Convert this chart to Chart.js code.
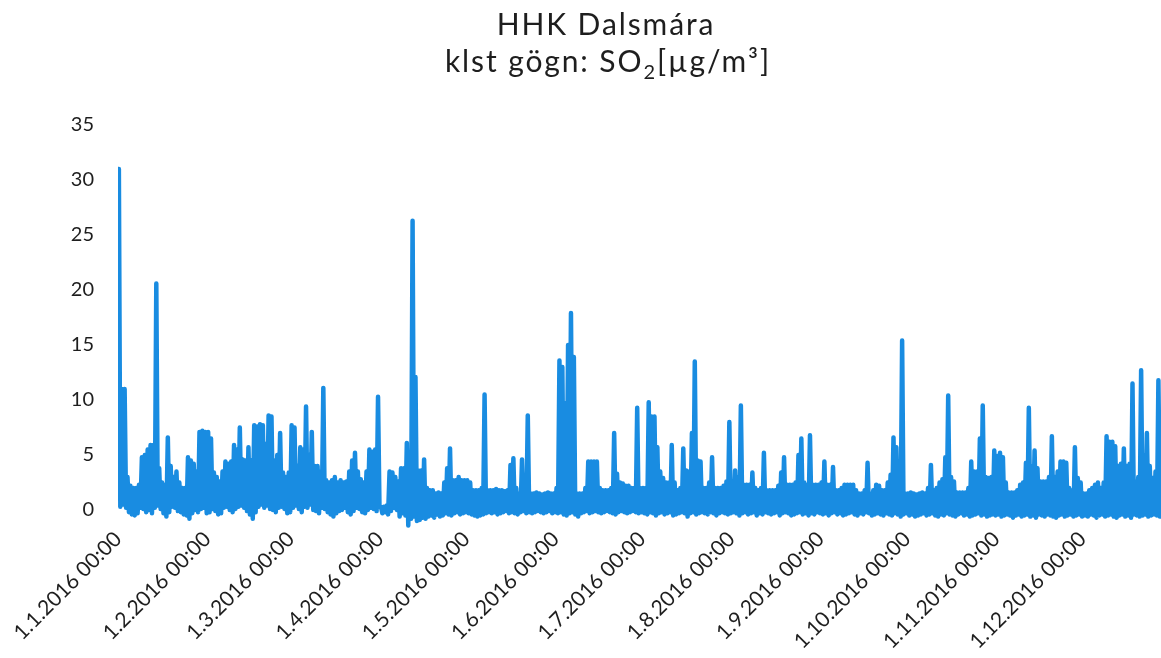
<!DOCTYPE html>
<html>
<head>
<meta charset="utf-8">
<script src="https://cdn.jsdelivr.net/npm/chart.js@4.4.1/dist/chart.umd.min.js"></script>
<style>
    html, body { margin: 0; padding: 0; background: #ffffff; }
    #wrap { width: 1161px; height: 658px; position: relative; }
</style>
</head>
<body>
<div id="wrap"><canvas id="so2Chart"></canvas></div>
<script>
// Chart text
const titleLine1 = 'HHK Dalsmára';
const titleLine2 = ['klst gögn: SO', '2', '[µg/m³]'];

// Month start ticks (day of year, 2016) and their labels
const monthStarts = [0, 31, 60, 91, 121, 152, 182, 213, 244, 274, 305, 335];
const monthLabels = [
    '1.1.2016 00:00', '1.2.2016 00:00', '1.3.2016 00:00', '1.4.2016 00:00',
    '1.5.2016 00:00', '1.6.2016 00:00', '1.7.2016 00:00', '1.8.2016 00:00',
    '1.9.2016 00:00', '1.10.2016 00:00', '1.11.2016 00:00', '1.12.2016 00:00'
];
const yTicks = [0, 5, 10, 15, 20, 25, 30, 35];

// Daily highest hourly value, 1 Jan .. 28 Dec
const dailyHigh = [
    // jan
    31, 11, 11, 3, 2.2, 2, 2, 2.3, 4.8, 5, 5.5, 5.9, 5.9, 20.6, 3.8, 2.5, 2.3, 6.6, 4, 3, 3.5, 2.5, 2, 2, 4.8, 4.5, 4.2, 3.5, 7.1, 7.2, 7.1,
    // feb
    7.1, 6.5, 3.4, 3, 2.6, 3.5, 4.4, 4.2, 4.4, 5.9, 5.5, 7.5, 4.6, 4.5, 5.7, 4.5, 7.7, 7.6, 7.8, 7.7, 6, 8.6, 8.5, 4.5, 5, 7, 3.4, 3, 3.4,
    // mar
    7.7, 7.5, 4, 5.7, 5.5, 9.4, 5, 7.1, 4, 4, 3.5, 11.1, 2.7, 2.5, 2.7, 3, 2.5, 2.7, 2.5, 2.6, 3.5, 4.5, 5.2, 3.5, 2.8, 2.5, 3.5, 5.5, 5.3, 5.5, 10.3,
    // apr
    0.3, 0.3, 0.4, 3.5, 3.4, 3, 2.6, 3.8, 3.8, 6.1, 5, 26.3, 12.1, 3.6, 3.6, 4.6, 2, 1.8, 1.8, 1.5, 1.6, 1.5, 2.5, 3.8, 5.6, 2.7, 2.7, 3, 2.7, 2.7,
    // may
    2.7, 2.5, 1.8, 1.8, 1.8, 2, 10.5, 1.8, 1.8, 1.8, 1.9, 1.8, 1.8, 1.7, 1.8, 4.1, 4.7, 2, 1.5, 4.6, 2, 8.6, 1.5, 1.5, 1.6, 1.5, 1.4, 1.5, 1.6, 1.5, 1.5,
    // jun
    2, 13.6, 13, 9.7, 15, 17.9, 13.9, 1.5, 1.5, 1.5, 2, 4.4, 4.4, 4.4, 4.4, 2, 1.8, 1.8, 1.8, 2, 7, 3.3, 2.5, 2.4, 2.2, 2.2, 2, 2, 9.3, 2,
    // jul
    2, 2, 9.8, 8.5, 8.5, 5.7, 3.5, 2.9, 2.5, 2.5, 5.9, 2.5, 1.8, 2, 5.6, 3.6, 3.5, 7, 13.5, 4.5, 4.4, 2, 2, 2.5, 4.8, 2, 2, 2, 2.2, 2.6, 8,
    // aug
    2.6, 3.6, 3, 9.5, 2.3, 2.3, 2.3, 3.4, 2, 1.8, 2, 5.2, 1.8, 1.8, 1.8, 1.8, 2.2, 3.4, 4.8, 2.3, 2.3, 2.3, 2.5, 5, 6.5, 2.5, 2.3, 6.8, 2.3, 2.3, 2.3,
    // sep
    2.5, 4.4, 2.3, 2.3, 3.9, 1.8, 1.8, 2, 2.3, 2.3, 2.3, 2.3, 1.8, 1.5, 1.5, 1.8, 4.3, 1.5, 1.8, 2.3, 2.2, 1.8, 1.8, 2.5, 3.2, 6.6, 5.7, 3, 15.4, 1.5,
    // oct
    1.5, 1.6, 1.5, 1.4, 1.5, 1.6, 1.5, 2, 4.1, 1.8, 2, 2.5, 2.8, 4.8, 10.4, 3, 2.6, 1.6, 1.6, 1.6, 1.6, 2, 4.4, 3.5, 3.5, 6.5, 9.5, 3, 2.9, 3, 5.4,
    // nov
    4.9, 5.2, 4.8, 2.5, 1.6, 1.6, 1.6, 1.8, 2.3, 2.5, 4.3, 9.3, 4, 5.4, 3.8, 2.6, 2.6, 2.6, 3, 6.7, 3, 3.5, 4.4, 4.4, 4.3, 2, 1.8, 5.7, 2.9, 2.5,
    // dec
    1.5, 1.5, 1.8, 2, 2.3, 2.5, 2, 2.5, 6.7, 6.2, 6.2, 5.8, 4, 4.2, 5.6, 4, 4.2, 11.5, 2.6, 3, 12.7, 5, 7, 4, 2.9, 3.5, 11.8
];

// Daily lowest hourly value (bottom edge of the band)
const dailyLow = [
    // jan
    0.3, 0.5, 0.2, -0.2, -0.4, -0.5, -0.3, 0.2, 0.1, -0.2, 0, -0.3, 0.2, 0.4, 0.1, -0.3, -0.6, -0.2, 0.3, 0.2, -0.1, -0.2, -0.4, -0.5, -0.8, -0.3, 0, -0.2, 0.1, 0.2, -0.3,
    // feb
    -0.2, 0.1, -0.1, -0.4, -0.3, 0.2, 0.3, 0, -0.2, 0.1, 0.3, 0.4, 0.2, -0.1, -0.4, -0.8, -0.2, 0.3, 0.5, 0.2, 0.4, 0.1, 0, -0.2, 0.2, 0.3, 0.1, -0.3, -0.2,
    // mar
    0.2, 0.4, 0.1, -0.2, 0.3, 0.2, 0.5, 0, -0.1, -0.3, 0.2, 0.1, -0.2, -0.4, -0.6, -0.3, -0.1, 0, 0.2, -0.2, -0.4, -0.1, 0.2, 0.1, -0.2, -0.3, 0, 0.2, 0.1, -0.1, 0.3,
    // apr
    -0.3, -0.2, -0.4, -0.1, 0.2, 0, -0.6, -0.3, -0.5, -1.4, -0.8, -0.6, -1.0, -0.9, -0.7, -0.8, -0.6, -0.5, -0.7, -0.4, -0.6, -0.5, -0.3, -0.4, -0.5, -0.3, -0.2, -0.4, -0.3, -0.2,
    // may
    -0.3, -0.4, -0.5, -0.6, -0.5, -0.4, -0.3, -0.2, -0.3, -0.2, -0.4, -0.3, -0.2, -0.1, -0.3, -0.2, -0.3, -0.4, -0.2, -0.1, -0.3, -0.2, -0.3, -0.2, -0.1, -0.2, -0.3, -0.2, -0.1, -0.3, -0.2,
    // jun
    -0.3, -0.2, -0.4, -0.5, -0.3, -0.2, -0.4, -0.6, -0.3, -0.2, -0.1, -0.3, -0.2, -0.1, -0.2, -0.3, -0.2, -0.1, -0.2, -0.3, -0.4, -0.2, -0.1, -0.2, -0.3, -0.2, -0.1, -0.2, -0.3, -0.2,
    // jul
    -0.3, -0.4, -0.2, -0.3, -0.5, -0.3, -0.2, -0.4, -0.3, -0.2, -0.5, -0.4, -0.3, -0.2, -0.3, -0.6, -0.3, -0.2, -0.4, -0.3, -0.2, -0.3, -0.4, -0.2, -0.3, -0.5, -0.3, -0.2, -0.3, -0.4, -0.3,
    // aug
    -0.2, -0.3, -0.5, -0.3, -0.2, -0.4, -0.3, -0.2, -0.5, -0.3, -0.4, -0.2, -0.3, -0.4, -0.3, -0.2, -0.5, -0.3, -0.2, -0.3, -0.5, -0.4, -0.3, -0.2, -0.4, -0.3, -0.5, -0.3, -0.4, -0.2, -0.3,
    // sep
    -0.4, -0.3, -0.5, -0.3, -0.2, -0.4, -0.3, -0.5, -0.4, -0.3, -0.2, -0.4, -0.5, -0.3, -0.4, -0.2, -0.3, -0.5, -0.4, -0.3, -0.4, -0.5, -0.3, -0.4, -0.5, -0.3, -0.4, -0.6, -0.4, -0.3,
    // oct
    -0.5, -0.4, -0.6, -0.5, -0.4, -0.3, -0.5, -0.4, -0.3, -0.5, -0.6, -0.4, -0.5, -0.3, -0.4, -0.5, -0.6, -0.4, -0.3, -0.5, -0.4, -0.6, -0.5, -0.4, -0.3, -0.5, -0.4, -0.6, -0.5, -0.4, -0.5,
    // nov
    -0.4, -0.6, -0.5, -0.4, -0.5, -0.7, -0.5, -0.4, -0.6, -0.5, -0.4, -0.6, -0.5, -0.7, -0.4, -0.5, -0.6, -0.4, -0.5, -0.6, -0.7, -0.5, -0.4, -0.6, -0.5, -0.4, -0.6, -0.5, -0.4, -0.6,
    // dec
    -0.5, -0.6, -0.4, -0.5, -0.7, -0.5, -0.4, -0.6, -0.5, -0.4, -0.6, -0.7, -0.5, -0.4, -0.6, -0.5, -0.7, -0.4, -0.5, -0.6, -0.5, -0.4, -0.6, -0.5, -0.4, -0.5, -0.6
];

const lineColor = '#198ce1';
const textColor = '#1e1e1e';

// hourly-looking trace: each day goes up to its high, then down to its low
const points = [];
dailyHigh.forEach((hi, d) => {
    points.push({ x: d + 0.3, y: hi });
    points.push({ x: d + 0.8, y: dailyLow[d] });
});

// two line title, with a real subscript 2
const titlePlugin = {
    id: 'twoLineTitle',
    afterDraw(chart) {
        const ctx = chart.ctx;
        const big = '30px Lato';
        const small = '20px Lato';
        ctx.save();
        ctx.fillStyle = textColor;
        ctx.textBaseline = 'alphabetic';
        ctx.letterSpacing = '1.9px';
        ctx.textAlign = 'left';

        ctx.font = big;
        const w0 = ctx.measureText(titleLine1).width;
        ctx.fillText(titleLine1, 606 - w0 / 2, 35);

        const w1 = ctx.measureText(titleLine2[0]).width;
        const w3 = ctx.measureText(titleLine2[2]).width;
        ctx.font = small;
        const w2 = ctx.measureText(titleLine2[1]).width;
        let x = 608 - (w1 + w2 + w3) / 2;
        const base = 72;
        ctx.font = big;
        ctx.fillText(titleLine2[0], x, base);
        x += w1;
        ctx.font = small;
        ctx.fillText(titleLine2[1], x, base + 7);
        x += w2;
        ctx.font = big;
        ctx.fillText(titleLine2[2], x, base);
        ctx.restore();
    }
};

new Chart(document.getElementById('so2Chart').getContext('2d'), {
    type: 'line',
    data: {
        datasets: [{
            label: 'SO2',
            data: points,
            borderColor: lineColor,
            borderWidth: 4.5,
            borderJoinStyle: 'round',
            borderCapStyle: 'round',
            pointRadius: 0,
            tension: 0,
            fill: false
        }]
    },
    options: {
        responsive: true,
        maintainAspectRatio: false,
        animation: false,
        layout: { padding: { top: 125, right: 0, left: 0, bottom: 0 } },
        plugins: {
            legend: { display: false },
            title: { display: false },
            tooltip: { enabled: false }
        },
        scales: {
            x: {
                type: 'linear',
                min: 0,
                max: 362.2,
                grid: { display: false },
                border: { display: false },
                afterBuildTicks: scale => {
                    scale.ticks = monthStarts.map(v => ({ value: v }));
                },
                afterFit: scale => { scale.height = 129.3; },
                ticks: {
                    autoSkip: false,
                    minRotation: 45,
                    maxRotation: 45,
                    padding: -10,
                    color: textColor,
                    font: { family: 'Lato', size: 21 },
                    callback: (value, index) => monthLabels[index]
                }
            },
            y: {
                min: -1.7,
                max: 35,
                grid: { display: false },
                border: { display: false },
                afterBuildTicks: scale => {
                    scale.ticks = yTicks.map(v => ({ value: v }));
                },
                afterFit: scale => { scale.width = 118; },
                ticks: {
                    padding: 16,
                    color: textColor,
                    font: { family: 'Lato', size: 20 }
                }
            }
        }
    },
    plugins: [titlePlugin]
});
</script>
</body>
</html>
